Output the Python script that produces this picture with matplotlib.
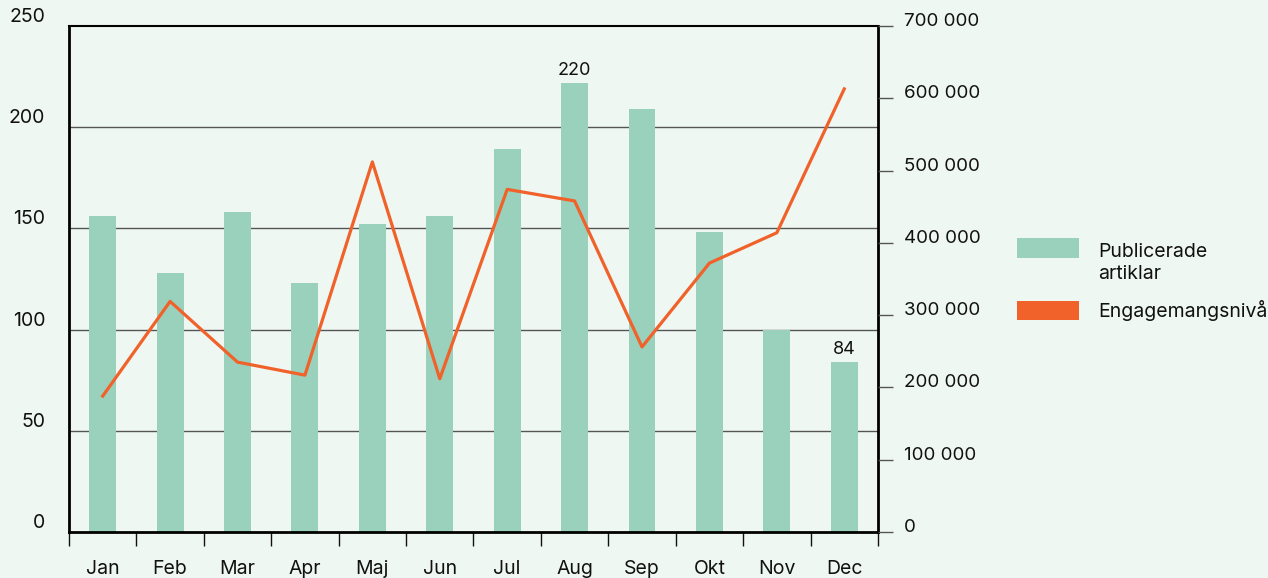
import numpy as np
import matplotlib.pyplot as plt
from matplotlib.patches import Rectangle
from matplotlib.ticker import FuncFormatter

plt.rcParams['font.family'] = ['Inter', 'DejaVu Sans']

months = ['Jan', 'Feb', 'Mar', 'Apr', 'Maj', 'Jun', 'Jul', 'Aug', 'Sep', 'Okt', 'Nov', 'Dec']
articles = [156, 128, 158, 123, 152, 156, 189, 222, 209, 148, 100, 84]
engagement = [188000, 319000, 235000, 217000, 512000, 212000, 474000, 458000, 256000, 372000, 414000, 613000]
bar_labels = {'Aug': '220', 'Dec': '84'}

bg = '#eff7f3'
green = '#9ad1bc'
orange = '#f0622a'
fs = 14

fig = plt.figure(figsize=(12.68, 5.78), dpi=100, facecolor=bg)
ax = fig.add_axes([0.0544, 0.0796, 0.638, 0.8754], facecolor=bg)
x = np.arange(len(months))

ax.bar(x, articles, width=0.4, color=green, zorder=2)
ax.set_xlim(-0.5, len(months) - 0.5)
ax.set_ylim(0, 250)
for m, txt in bar_labels.items():
    i = months.index(m)
    ax.annotate(txt, (i, articles[i]), xytext=(0, 3), textcoords='offset points',
                ha='center', va='bottom', fontsize=fs - 1, color='#111')

# grid lines
for g in [50, 100, 150, 200]:
    ax.axhline(g, color='#555', lw=1, zorder=1)

ax.set_yticks([0, 50, 100, 150, 200, 250])
ax.set_yticks([50, 100, 150, 200], minor=True)
ax.tick_params(axis='y', which='major', length=0, pad=17, labelsize=fs, labelcolor='#111')
ax.tick_params(axis='y', which='minor', length=11, color='#555', width=1)
for lab in ax.get_yticklabels():
    lab.set_va('bottom')

ax.set_xticks(x)
ax.set_xticklabels(months)
ax.set_xticks(np.arange(-0.5, len(months)), minor=True)
ax.tick_params(axis='x', which='major', length=0, pad=20, labelsize=fs, labelcolor='#111')
ax.tick_params(axis='x', which='minor', length=10, color='#111', width=1)

for s in ['left', 'bottom', 'right']:
    ax.spines[s].set_linewidth(2)
    ax.spines[s].set_color('#000')
ax.spines['top'].set_linewidth(1.5)
ax.spines['top'].set_color('#000')

ax2 = ax.twinx()
ax2.plot(x, engagement, color=orange, lw=2.3, zorder=3)
ax2.set_ylim(0, 700000)
ax2.set_yticks(np.arange(0, 700001, 100000))
ax2.yaxis.set_major_formatter(FuncFormatter(lambda v, p: f'{int(v):,}'.replace(',', ' ')))
ax2.tick_params(axis='y', length=11, color='#555', width=1, pad=8, labelsize=fs - 0.5, labelcolor='#111')
for lab in ax2.get_yticklabels():
    lab.set_va('baseline')
for s in ax2.spines.values():
    s.set_visible(False)

# legend, first patch aligned with the first text line
fig.patches.append(Rectangle((0.802, 0.5536), 0.0489, 0.0346, facecolor=green,
                             transform=fig.transFigure, figure=fig))
fig.patches.append(Rectangle((0.802, 0.4464), 0.0489, 0.0329, facecolor=orange,
                             transform=fig.transFigure, figure=fig))
fig.text(0.8659, 0.545, 'Publicerade\nartiklar', fontsize=fs, color='#111',
         va='center', ha='left', linespacing=1.25)
fig.text(0.8659, 0.462, 'Engagemangsnivå', fontsize=fs, color='#111',
         va='center', ha='left')

fig.savefig('out.png', dpi=100, facecolor=bg)
